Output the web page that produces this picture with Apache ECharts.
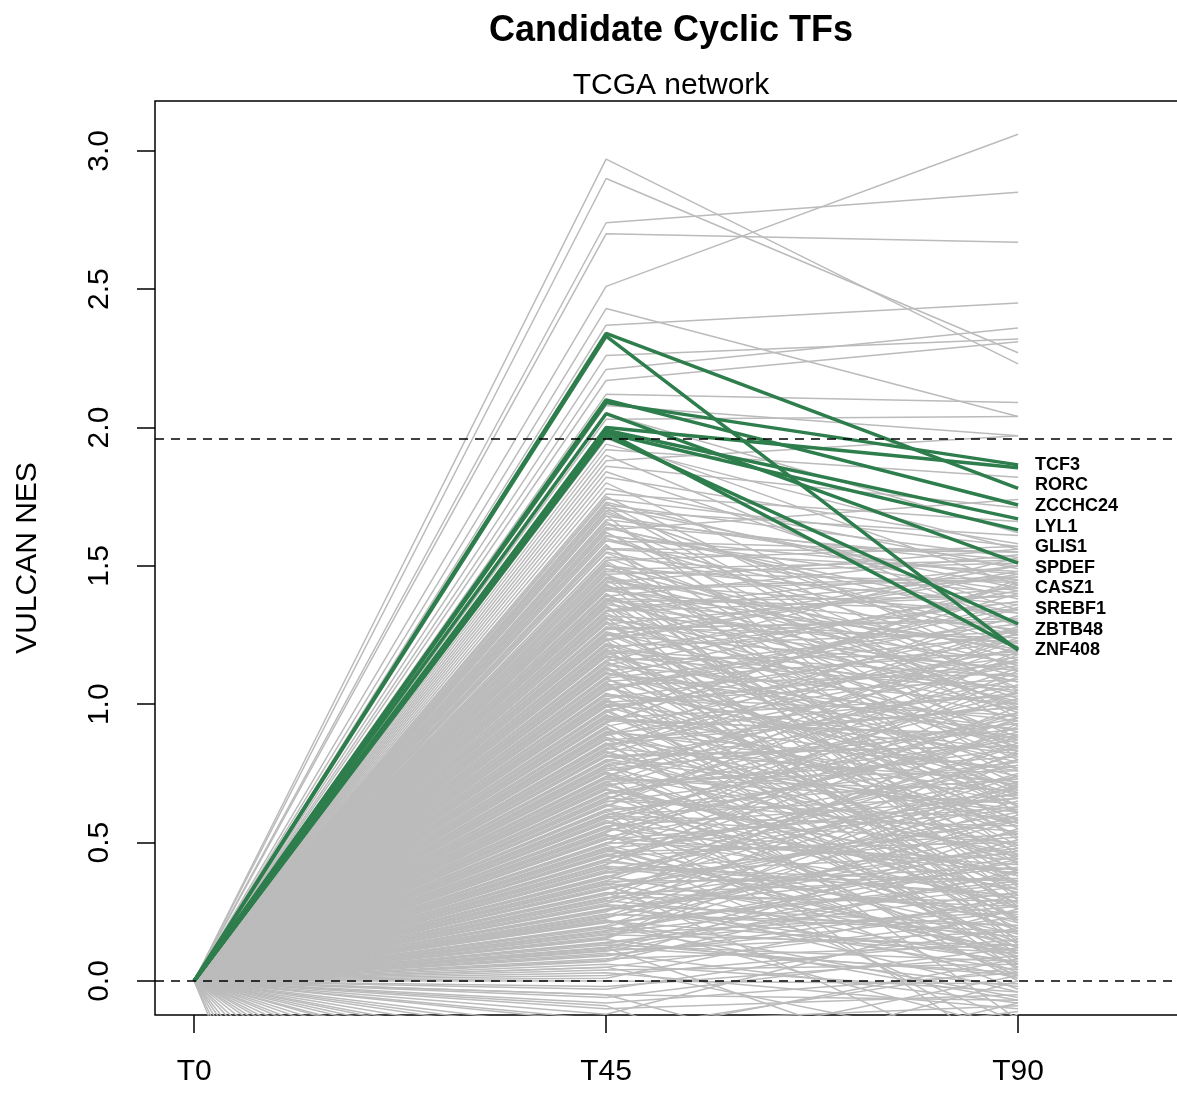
<!DOCTYPE html>
<html>
<head>
<meta charset="utf-8">
<script src="https://cdn.jsdelivr.net/npm/echarts@6/dist/echarts.min.js"></script>
<style>
html,body{margin:0;padding:0;background:#fff;overflow:hidden;}
#chart{width:1177px;height:1099px;}
</style>
</head>
<body>
<div id="chart"></div>
<script>
// ---- data ----
const categories = ['T0', 'T45', 'T90'];
const yTicks = [0, 0.5, 1.0, 1.5, 2.0, 2.5, 3.0];
const thresholds = [0, 1.96];

const greenNames = ['TCF3', 'RORC', 'ZCCHC24', 'LYL1', 'GLIS1', 'SPDEF', 'CASZ1', 'SREBF1', 'ZBTB48', 'ZNF408'];
const green45 = [2.09, 2.00, 2.34, 2.10, 1.99, 1.98, 2.05, 1.97, 1.985, 2.33];
const green90 = [1.865, 1.855, 1.78, 1.72, 1.67, 1.63, 1.51, 1.29, 1.20, 1.195];

const gray45 = [
  2.97, 2.90, 2.74, 2.70, 2.51, 2.43, 2.37, 2.26, 2.21, 2.17,
  2.12, 2.08, 2.05, 2.03, 1.96, 1.94, 1.92, 1.90, 1.88, 1.86,
  1.84, 1.82, 1.80, 1.78, 1.76, 1.75, 1.73, 1.72, 1.71, 1.70,
  1.69, 1.68, 1.66, 1.65, 1.64, 1.63, 1.62, 1.61, 1.60, 1.59,
  1.57, 1.56, 1.55, 1.53, 1.52, 1.51, 1.50, 1.49, 1.48, 1.47,
  1.47, 1.46, 1.45, 1.44, 1.43, 1.42, 1.41, 1.40, 1.39, 1.38,
  1.38, 1.37, 1.36, 1.35, 1.34, 1.33, 1.32, 1.31, 1.30, 1.29,
  1.28, 1.27, 1.26, 1.25, 1.24, 1.23, 1.22, 1.21, 1.20, 1.19,
  1.18, 1.17, 1.16, 1.15, 1.14, 1.13, 1.12, 1.11, 1.10, 1.09,
  1.08, 1.07, 1.06, 1.05, 1.04, 1.03, 1.02, 1.01, 1.00, 0.99,
  0.98, 0.97, 0.96, 0.95, 0.94, 0.93, 0.92, 0.91, 0.90, 0.89,
  0.88, 0.87, 0.86, 0.85, 0.84, 0.83, 0.82, 0.81, 0.80, 0.79,
  0.78, 0.77, 0.76, 0.75, 0.74, 0.73, 0.72, 0.71, 0.70, 0.69,
  0.68, 0.67, 0.66, 0.65, 0.64, 0.63, 0.62, 0.61, 0.60, 0.59,
  0.58, 0.57, 0.56, 0.55, 0.54, 0.53, 0.52, 0.51, 0.50, 0.49,
  0.48, 0.47, 0.46, 0.45, 0.44, 0.43, 0.42, 0.41, 0.40, 0.39,
  0.38, 0.37, 0.36, 0.35, 0.34, 0.33, 0.32, 0.31, 0.30, 0.29,
  0.28, 0.27, 0.26, 0.25, 0.24, 0.23, 0.22, 0.21, 0.20, 0.19,
  0.18, 0.17, 0.16, 0.15, 0.14, 0.13, 0.12, 0.11, 0.10, 0.09,
  0.08, 0.07, 0.06, 0.05, 0.04, 0.03, 0.02, 0.01, 0.00, -0.02,
  -0.03, -0.05, -0.06, -0.08, -0.10, -0.12, -0.15, -0.20, -0.30, -0.40,
  1.455, 1.435, 1.415, 1.395, 1.375, 1.355, 1.335, 1.315, 1.295, 1.275,
  1.255, 1.235, 1.215, 1.195, 1.175, 1.155, 1.135, 1.115, 1.095, 1.075,
  1.055, 1.035, 1.015, 0.995, 0.975, 0.955, 0.935, 0.915, 0.895, 0.875,
  0.855, 0.835, 0.815, 0.795, 0.775, 0.755, 0.735, 0.715, 0.695, 0.675,
  0.655, 0.635, 0.615, 0.595, 0.575, 0.555, 0.535, 0.515, 0.495, 0.475,
  0.455, 0.435, 0.415, 0.395, 0.375, 0.355, 0.335, 0.315, 0.295, 0.275,
  0.255, 0.235, 0.215, 0.195, 0.175, 0.155, 0.135, 0.115, 0.095, 0.075,
  1.742, 1.727, 1.712, 1.697, 1.682, 1.667, 1.652, 1.637, 1.622, 1.607,
  1.592, 1.577, 1.562, 1.547, 1.532, 1.517, 1.502, 1.487, 1.472, 1.457,
  1.442, 1.427, 1.412, 1.397, 1.382, 1.367, 1.352, 1.337, 1.322, 1.307,
  1.292, 1.277, 1.262, 1.247, 1.232, 1.217, 1.202, 1.187, 1.172, 1.157,
  1.142, 1.127, 1.112, 1.097, 1.082, 1.067, 1.052, 1.037, 1.022, 1.007,
  0.992, 0.977, 0.962, 0.947, 0.932, 0.917, 0.902, 0.887, 0.872, 0.857,
  0.842, 0.827, 0.812, 0.797, 0.782, 0.767, 0.752, 0.737, 0.722, 0.707,
  0.692, 0.677, 0.662, 0.647, 0.632, 0.617, 0.602, 0.587, 0.572, 0.557,
  0.542, 0.527, 0.512, 0.497, 0.482, 0.467, 0.452, 0.437, 0.422, 0.407,
  0.392, 0.377, 0.362, 0.347, 0.332, 0.317, 0.302, 0.287, 0.272, 0.257,
  0.242, 0.227, 0.212, 0.197, 0.182, 0.167, 0.152, 0.137, 0.122, 0.107,
  -0.14, -0.18, -0.22, -0.25, -0.28, -0.33, -0.36, -0.42, -0.47, -0.52,
  -0.58, -0.63, -0.70, -0.78, -0.85, -0.95, -1.05, -1.20, -1.40, -1.60,
  0.05, 0.12, 0.22, 0.35, 0.48, 0.60, 0.75, 0.90, -0.05, -0.09,
  -1.90, -2.20, -2.60, -3.10, -3.60
];
const gray90 = [
  2.23, 2.27, 2.85, 2.67, 3.06, 2.04, 2.45, 2.32, 2.36, 2.31,
  2.09, 1.97, 1.62, 2.04, 1.43, 1.56, 1.82, 1.28, 1.97, 1.71,
  1.34, 1.58, 1.12, 1.49, 1.66, 1.05, 1.38, 1.53, 0.92, 1.61,
  1.21, 1.45, 0.84, 1.52, 1.30, 1.74, 0.98, 1.41, 1.16, 1.55,
  0.76, 1.48, 1.25, 1.02, 1.57, 0.63, 1.36, 1.10, 1.44, 0.88,
  1.51, 1.19, 0.55, 1.33, 0.97, 1.46, 1.27, 0.71, 1.54, 1.08,
  0.42, 1.39, 1.15, 0.83, 1.50, 0.61, 1.22, 1.04, 0.34, 1.42,
  0.95, 1.31, 0.68, 1.13, 0.49, 1.47, 0.87, 1.26, 0.22, 1.06,
  1.37, 0.58, 1.18, 0.79, 1.00, 0.31, 1.29, 0.91, 1.43, 0.66,
  0.15, 1.11, 0.74, 1.35, 0.53, 0.96, 1.23, 0.40, 0.82, 1.17,
  0.28, 1.40, 0.64, 1.03, 0.89, 0.19, 1.20, 0.47, 0.77, 1.32,
  0.57, 0.99, 0.08, 1.14, 0.72, 0.36, 1.27, 0.85, 0.61, 0.12,
  1.09, 0.45, 0.93, 0.26, 1.24, 0.69, 0.05, 0.81, 1.16, 0.38,
  0.87, 0.14, 1.02, 0.59, 0.33, 1.19, 0.73, 0.02, 0.94, 0.50,
  0.21, 1.07, 0.66, 0.39, 0.90, -0.03, 0.78, 1.12, 0.44, 0.17,
  0.62, 0.97, 0.09, 0.53, 0.80, 0.30, 1.05, 0.24, 0.70, 0.46,
  0.11, 0.86, 0.37, 0.58, 0.01, 0.75, 0.27, 0.92, 0.48, 0.16,
  0.65, 0.04, 0.41, 0.83, 0.20, 0.54, -0.06, 0.35, 0.71, 0.10,
  0.43, 0.25, 0.60, -0.02, 0.32, 0.07, 0.51, 0.18, -0.08, 0.29,
  0.13, 0.40, -0.04, 0.23, 0.06, -0.10, 0.15, 0.31, -0.01, 0.09,
  0.19, -0.07, 0.12, 0.03, -0.05, 0.26, -0.09, 0.08, -0.11, 0.00,
  1.00, 0.35, 1.45, 0.80, 1.22, 0.52, 1.39, 0.14, 0.98, 1.30,
  0.63, 1.48, 0.27, 1.10, 0.86, 1.53, 0.44, 0.70, 1.25, 0.06,
  1.36, 0.91, 0.57, 1.15, 0.22, 0.76, 1.44, 0.33, 1.04, 0.68,
  0.12, 1.28, 0.85, 0.49, 1.01, 0.18, 0.64, 1.21, 0.38, 0.95,
  1.13, 0.27, 0.79, 0.56, 0.03, 0.88, 1.18, 0.42, 0.66, 0.10,
  0.74, 0.99, 0.31, 0.52, 0.85, 0.06, 0.61, 0.37, 0.93, 0.20,
  0.47, 0.72, 0.11, 0.58, 0.34, 0.80, 0.02, 0.44, 0.25, 0.55,
  1.57, 0.95, 1.42, 1.18, 0.60, 1.50, 1.06, 1.33, 0.81, 1.47,
  1.26, 0.45, 1.55, 0.99, 1.40, 0.73, 1.14, 1.52, 0.29, 1.08,
  1.56, 0.84, 1.20, 0.51, 1.34, 1.01, 0.17, 1.46, 0.69, 1.12,
  0.39, 1.24, 0.90, 1.50, 0.13, 0.77, 1.37, 0.58, 1.05, 0.26,
  1.41, 0.67, 0.94, 0.21, 1.19, 0.48, 1.31, 0.83, 0.04, 1.09,
  0.56, 1.27, 0.35, 0.88, 1.45, 0.10, 0.71, 1.16, 0.43, 0.99,
  1.35, 0.23, 0.62, 1.07, 0.00, 0.91, 0.46, 1.23, 0.76, 0.32,
  0.05, 1.04, 0.54, 0.84, 1.26, 0.19, 0.67, 0.97, 0.40, 0.12,
  0.89, 0.30, 0.63, 1.10, 0.08, 0.50, 0.78, 0.22, 0.95, 0.36,
  0.68, 0.14, 0.82, 0.41, 0.59, -0.04, 0.29, 0.74, 0.07, 0.49,
  0.18, 0.63, 0.36, -0.07, 0.45, 0.13, 0.70, 0.27, 0.03, 0.39,
  -0.20, 0.05, -0.35, -0.15, 0.02, -0.40, -0.25, -0.08, -0.50, -0.30,
  -0.45, -0.12, -0.60, -0.28, -0.70, -0.38, -0.55, -0.90, -0.65, -1.00,
  -0.25, -0.40, -0.18, -0.33, -0.15, -0.22, -0.30, -0.14, -0.45, -0.60,
  -1.20, -0.80, -1.50, -0.95, -1.10
];
const startValue = 0; // all profiles start at 0 at T0

// ---- build ----
const FONT = '"Liberation Sans", Arial, Helvetica, sans-serif';
const series = [];
for (let i = 0; i < gray45.length; i++) {
  series.push({
    type: 'line', silent: true, animation: false, symbol: 'none', z: 2,
    data: [[1, startValue], [2, gray45[i]], [3, gray90[i]]],
    lineStyle: { color: '#BBBBBB', width: 1.5 }
  });
}
series.push({
  type: 'line', silent: true, animation: false, symbol: 'none', z: 3,
  data: [[1, startValue]], lineStyle: { width: 0 },
  markLine: {
    silent: true, symbol: 'none', animation: false,
    label: { show: false },
    lineStyle: { color: '#000', width: 1.5, type: [9, 7] },
    data: thresholds.map(v => ({ yAxis: v }))
  }
});
for (let i = 0; i < greenNames.length; i++) {
  series.push({
    name: greenNames[i], type: 'line', silent: true, animation: false, symbol: 'none', z: 4,
    data: [[1, startValue], [2, green45[i]], [3, green90[i]]],
    lineStyle: { color: '#2E7D4C', width: 3.5 }
  });
}
const gMax = Math.max(...green90), gMin = Math.min(...green90);
const labelData = greenNames.map((n, i) => ({
  value: [3, gMax - i * (gMax - gMin) / (greenNames.length - 1)], name: n
}));
series.push({
  type: 'scatter', silent: true, animation: false, symbolSize: 0, z: 5,
  data: labelData,
  label: {
    show: true, position: 'right', distance: 17, formatter: p => p.name,
    fontFamily: FONT, fontWeight: 'bold', fontSize: 18, color: '#000', opacity: 1
  }
});

const chart = echarts.init(document.getElementById('chart'));
chart.setOption({
  backgroundColor: '#fff',
  animation: false,
  title: [
    { text: 'Candidate Cyclic TFs', left: 666, top: 8, textAlign: 'center',
      textStyle: { fontFamily: FONT, fontWeight: 'bold', fontSize: 36, color: '#000' } },
    { text: 'TCGA network', left: 666, top: 66, textAlign: 'center',
      textStyle: { fontFamily: FONT, fontWeight: 'normal', fontSize: 30, color: '#000' } }
  ],
  grid: { left: 155, top: 101, width: 1032, bottom: 84, outerBoundsMode: 'none', containLabel: false,
          show: true, borderColor: '#000', borderWidth: 1.5, backgroundColor: 'transparent' },
  xAxis: {
    type: 'value', min: 0.905, max: 3.41,
    splitLine: { show: false },
    axisLine: { show: false, onZero: false },
    axisTick: { show: true, length: 18, customValues: [1, 2, 3], lineStyle: { color: '#000', width: 1.5 } },
    axisLabel: {
      customValues: [1, 2, 3], formatter: v => categories[Math.round(v) - 1] || '',
      margin: 42, fontFamily: FONT, fontSize: 30, color: '#000'
    }
  },
  yAxis: {
    type: 'value', min: -0.123, max: 3.18,
    name: 'VULCAN NES', nameLocation: 'middle', nameGap: 112, nameRotate: 90,
    nameTextStyle: { fontFamily: FONT, fontSize: 30, color: '#000' },
    splitLine: { show: false },
    axisLine: { show: false, onZero: false },
    axisTick: { show: true, length: 18, customValues: yTicks, lineStyle: { color: '#000', width: 1.5 } },
    axisLabel: {
      customValues: yTicks, formatter: v => v.toFixed(1), rotate: 90,
      margin: 40, fontFamily: FONT, fontSize: 30, color: '#000'
    }
  },
  series: series
});
</script>
</body>
</html>
